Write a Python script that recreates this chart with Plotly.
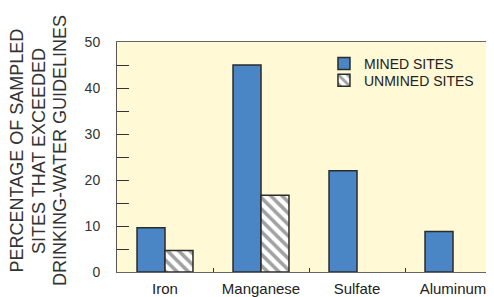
import plotly.graph_objects as go

categories = ["Iron", "Manganese", "Sulfate", "Aluminum"]
mined = [9.6, 45.0, 22.0, 8.8]
unmined = [4.7, 16.7, None, None]
y_tickvals = [0, 5, 10, 15, 20, 25, 30, 35, 40, 45, 50]
y_ticktext = ["0", "", "10", "", "20", "", "30", "", "40", "", "50"]
title_lines = ["PERCENTAGE OF SAMPLED", "SITES THAT EXCEEDED", "DRINKING-WATER GUIDELINES"]

FONT = "Arial, Liberation Sans, Helvetica, sans-serif"

fig = go.Figure()
fig.add_trace(go.Bar(
    x=categories, y=mined, name="MINED SITES", legend="legend",
    marker=dict(color="#4A86C6", line=dict(color="#2b2b2b", width=1.5)),
))
fig.add_trace(go.Bar(
    x=categories, y=unmined, name="UNMINED SITES", legend="legend2",
    marker=dict(color="white", line=dict(color="#2b2b2b", width=1.5),
                pattern=dict(shape="\\", fgcolor="#444444", bgcolor="white",
                             size=8, solidity=0.45)),
))

legend_style = dict(xanchor="left", yanchor="top", bgcolor="rgba(0,0,0,0)",
                    font=dict(size=14, color="#222222"), itemwidth=30)

title_x = [-0.2591, -0.2031, -0.1484]
annotations = [dict(
    text=t, xref="paper", yref="paper", x=xx, y=0.526,
    xanchor="center", yanchor="middle", textangle=-90, showarrow=False,
    font=dict(size=18, color="#333333", family=FONT),
) for t, xx in zip(title_lines, title_x)]

fig.update_layout(
    width=494, height=297,
    margin=dict(l=109, r=1, t=34, b=33),
    paper_bgcolor="white",
    plot_bgcolor="#FFF9D6",
    barmode="group",
    bargap=0.417,
    bargroupgap=0,
    font=dict(family=FONT, color="#333333"),
    showlegend=True,
    legend=dict(x=0.539, y=0.974, **legend_style),
    legend2=dict(x=0.539, y=0.901, **legend_style),
    xaxis=dict(
        range=[-0.5, 3.5],
        showline=True, linecolor="#666666", linewidth=1, mirror=True,
        ticks="inside", tickson="boundaries", ticklen=4, tickcolor="#333333",
        tickfont=dict(size=15, color="#222222"),
        ticklabelstandoff=3,
        showgrid=False, zeroline=False,
    ),
    yaxis=dict(
        range=[0, 50],
        tickvals=y_tickvals, ticktext=y_ticktext,
        ticks="inside", ticklen=12, tickcolor="#333333", tickwidth=1,
        showline=True, linecolor="#555555", linewidth=1,
        tickfont=dict(size=14, color="#333333"),
        ticklabelstandoff=13,
        showgrid=False, zeroline=False,
    ),
    yaxis2=dict(
        range=[0, 50], overlaying="y", side="right",
        tickvals=y_tickvals, ticks="inside", ticklen=8, tickcolor="#333333",
        showticklabels=False, showline=False, showgrid=False, zeroline=False,
    ),
    annotations=annotations,
)

fig.write_html("out.html")
